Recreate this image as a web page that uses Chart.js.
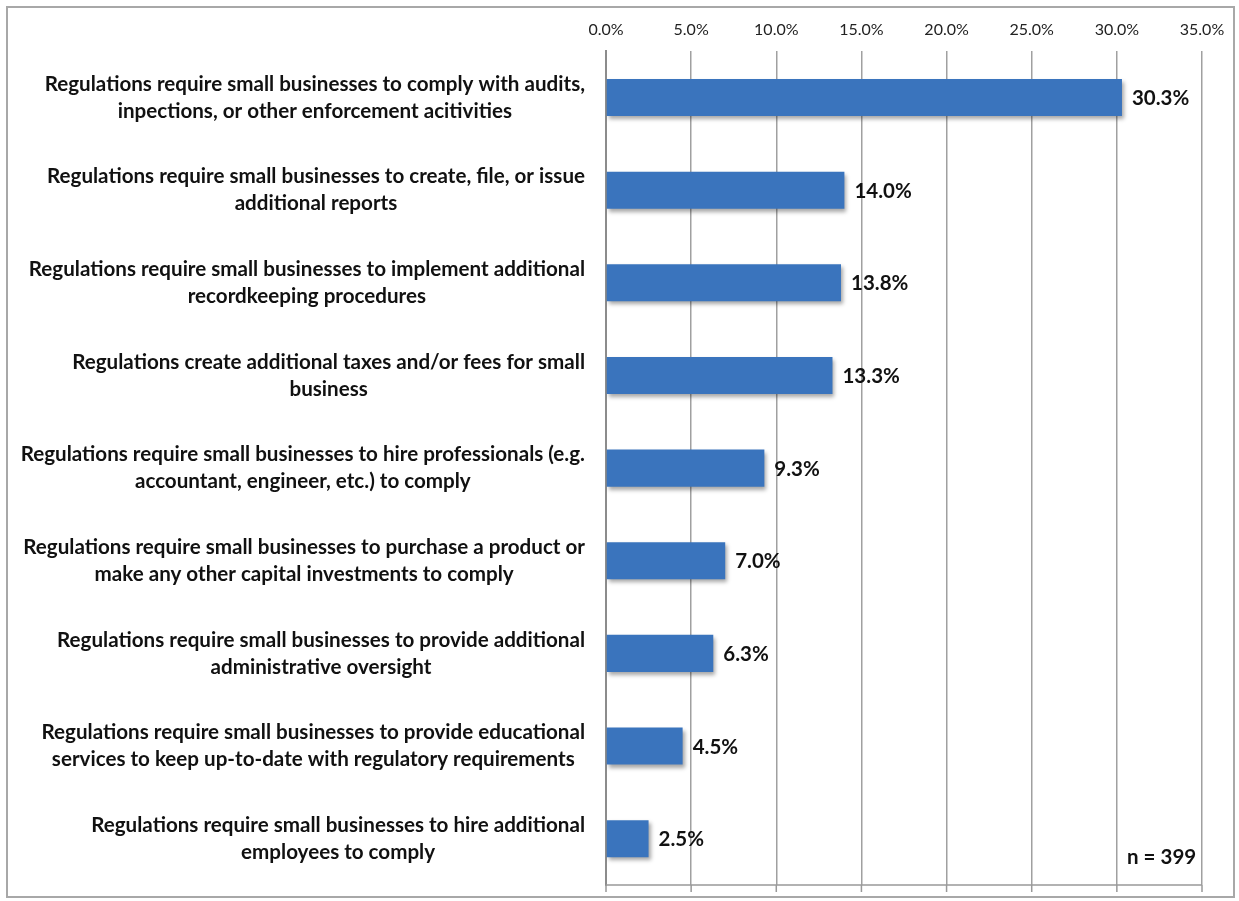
<!DOCTYPE html>
<html>
<head>
  <title>Regulatory burden</title>
  <script src="https://cdn.jsdelivr.net/npm/chart.js"></script>
</head>
<body style="margin:0;background:#fff;">
  <div style="width:1239px;height:901px;position:relative;">
    <canvas id="chart"></canvas>
  </div>

  <script>
    // categories, top to bottom
    const categories = [
      ["Regulations require small businesses to comply with audits,", "inpections, or other enforcement acitivities"],
      ["Regulations require small businesses to create, file, or issue", "additional reports"],
      ["Regulations require small businesses to implement additional", "recordkeeping procedures"],
      ["Regulations create additional taxes and/or fees for small", "business"],
      ["Regulations require small businesses to hire professionals (e.g.", "accountant, engineer, etc.) to comply"],
      ["Regulations require small businesses to purchase a product or", "make any other capital investments to comply"],
      ["Regulations require small businesses to provide additional", "administrative oversight"],
      ["Regulations require small businesses to provide educational", "services to keep up-to-date with regulatory requirements"],
      ["Regulations require small businesses to hire additional", "employees to comply"]
    ];
    const shares = [30.3, 14.0, 13.8, 13.3, 9.3, 7.0, 6.3, 4.5, 2.5];
    const xMin = 0, xMax = 35, xStep = 5;
    const sampleNote = "n = 399";

    const FONT = "Lato, 'Open Sans', sans-serif";

    // bar fill: light blue on top, darker at the bottom
    function barFill(c) {
      const el = c.element;
      if (!el || el.y === undefined) return "#3a74bd";
      const h = el.height || 37;
      const g = c.chart.ctx.createLinearGradient(0, el.y - h / 2, 0, el.y + h / 2);
      g.addColorStop(0, "#4686d8");
      g.addColorStop(0.5, "#3a72bb");
      g.addColorStop(1, "#29568f");
      return g;
    }

    const framePlugin = {
      id: "frame",
      beforeDraw(chart) {
        const ctx = chart.ctx;
        ctx.save();
        ctx.fillStyle = "#fff";
        ctx.fillRect(0, 0, chart.width, chart.height);
        ctx.strokeStyle = "#a8a8a8";
        ctx.lineWidth = 2;
        ctx.strokeRect(7, 7, chart.width - 12, chart.height - 11);
        ctx.restore();
      },
      beforeDatasetDraw(chart) {
        const ctx = chart.ctx;
        ctx.save();
        ctx.shadowColor = "rgba(0,0,0,0.35)";
        ctx.shadowBlur = 4;
        ctx.shadowOffsetX = 2;
        ctx.shadowOffsetY = 3;
      },
      afterDatasetDraw(chart) {
        chart.ctx.restore();
      },
      afterDraw(chart) {
        const ctx = chart.ctx;
        const area = chart.chartArea;
        const xs = chart.scales.x, ys = chart.scales.y;
        ctx.save();
        // bottom line and little tick marks below it
        ctx.strokeStyle = "#999";
        ctx.lineWidth = 1.5;
        ctx.beginPath();
        ctx.moveTo(area.left, area.bottom);
        ctx.lineTo(area.right, area.bottom);
        for (let v = xMin; v <= xMax; v += xStep) {
          const px = xs.getPixelForValue(v);
          ctx.moveTo(px, area.bottom);
          ctx.lineTo(px, area.bottom + 7);
        }
        ctx.stroke();

        // category labels, each centred on itself, right edge near the axis
        ctx.fillStyle = "#111";
        ctx.font = "bold 20.6px " + FONT;
        ctx.textAlign = "center";
        ctx.textBaseline = "middle";
        const rightEdge = area.left - 21;
        const lineGap = 27;
        categories.forEach((lines, i) => {
          const cy = ys.getPixelForValue(i);
          const widest = Math.max(...lines.map(l => ctx.measureText(l).width));
          const cx = rightEdge - widest / 2;
          const y0 = cy - (lines.length - 1) * lineGap / 2;
          lines.forEach((l, k) => ctx.fillText(l, cx, y0 + k * lineGap));
        });

        // value labels at the end of each bar
        ctx.textAlign = "left";
        ctx.font = "bold 20.5px " + FONT;
        shares.forEach((v, i) => {
          ctx.fillText(v.toFixed(1) + "%", xs.getPixelForValue(v) + 10, ys.getPixelForValue(i) + 1);
        });

        // sample size
        ctx.fillText(sampleNote, xs.getPixelForValue(30.6), area.bottom - 28);
        ctx.restore();
      }
    };

    const ctx = document.getElementById("chart").getContext("2d");
    const chart = new Chart(ctx, {
      type: "bar",
      data: {
        labels: categories,
        datasets: [{
          data: shares,
          backgroundColor: barFill,
          borderWidth: 0,
          categoryPercentage: 1,
          barPercentage: 0.4
        }]
      },
      options: {
        indexAxis: "y",
        responsive: true,
        maintainAspectRatio: false,
        animation: false,
        layout: { padding: { left: 598, right: 37, top: 8, bottom: 16 } },
        plugins: {
          legend: { display: false },
          tooltip: { enabled: false }
        },
        scales: {
          x: {
            position: "top",
            min: xMin,
            max: xMax,
            grid: { color: "#a0a0a0", lineWidth: 1.5, drawTicks: false },
            border: { display: false },
            ticks: {
              stepSize: xStep,
              padding: 12,
              color: "#222",
              font: { family: FONT, size: 16 },
              callback: v => v.toFixed(1) + "%"
            }
          },
          y: {
            grid: { display: false },
            border: { display: true, color: "#8c8c8c", width: 2 },
            ticks: { display: false }
          }
        }
      },
      plugins: [framePlugin]
    });
  </script>
</body>
</html>
